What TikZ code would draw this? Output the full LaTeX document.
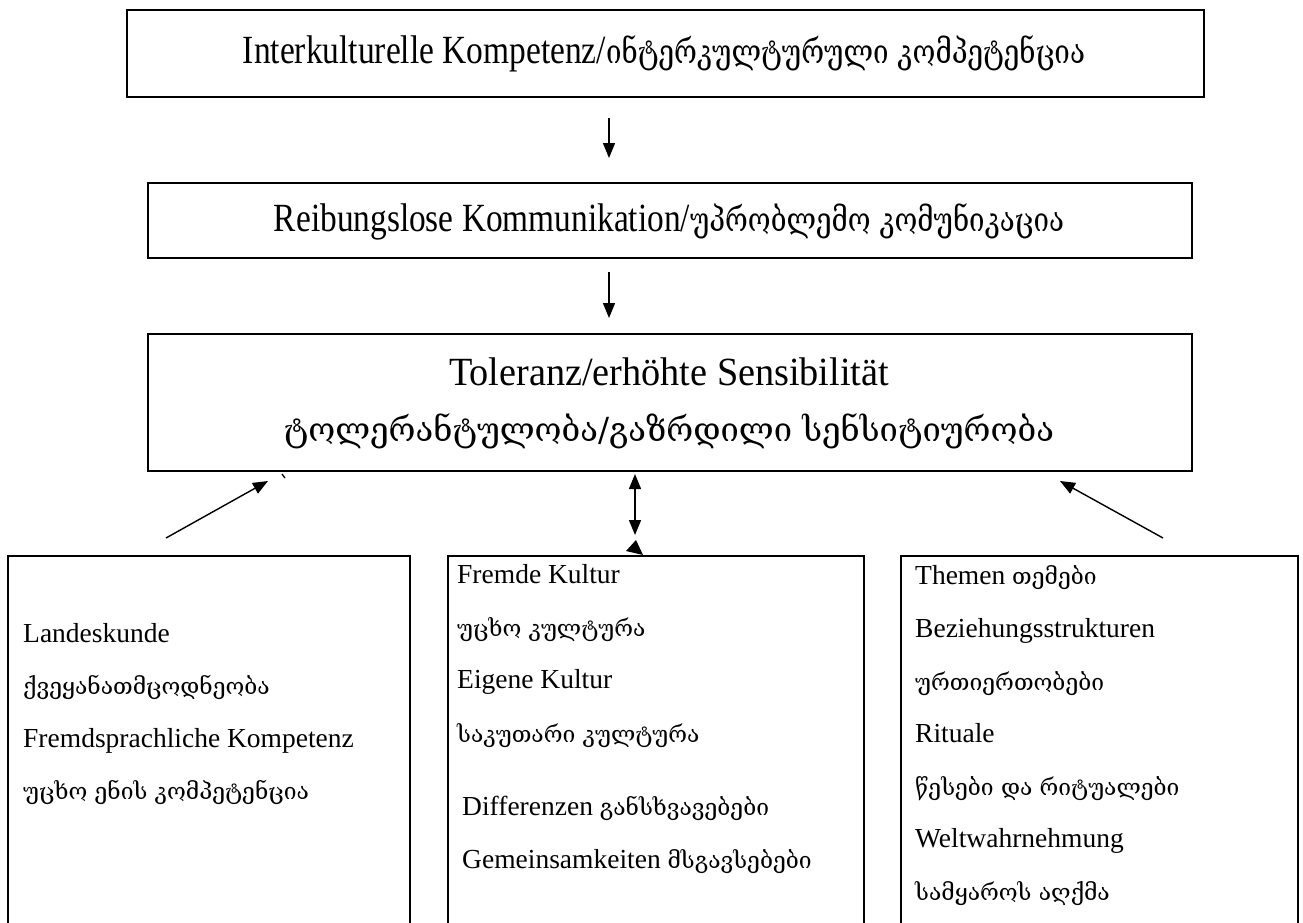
\documentclass[tikz,border=0pt]{standalone}
\usepackage{fontspec}
\usepackage{graphicx}
\setmainfont{Liberation Serif}
\newfontfamily\ka{DejaVu Serif}[Scale=0.83]
\usetikzlibrary{arrows.meta}
\newcommand{\topfont}{\fontsize{40}{44}\selectfont}
\begin{document}
\begin{tikzpicture}[x=1pt,y=-1pt,
  box/.style={draw, line width=1.6pt, anchor=north west, inner sep=0pt},
  lbl/.style={anchor=base west, inner sep=0pt, font=\fontsize{27.5}{30}\selectfont},
  ttl/.style={anchor=base, inner sep=0pt},
  conn/.style={line width=1.4pt, -{Triangle[length=15pt,width=12pt]}},
  dconn/.style={line width=1.4pt, {Triangle[length=15pt,width=12pt]}-{Triangle[length=15pt,width=12pt]}},
]
\clip (0,0) rectangle (1303,922);
\fill[white] (0,0) rectangle (1303,922);
% boxes
\node[box, minimum width=1077pt, minimum height=87pt] (b1) at (126,9) {};
\node[box, minimum width=1044pt, minimum height=75pt] (b2) at (147,182) {};
\node[box, minimum width=1044pt, minimum height=137pt] (b3) at (147,333) {};
\node[box, minimum width=402pt, minimum height=400pt] (b4) at (7,555) {};
\node[box, minimum width=416pt, minimum height=400pt] (b5) at (447,555) {};
\node[box, minimum width=397pt, minimum height=400pt] (b6) at (900,555) {};
% titles
\node[ttl] (t1) at (664,63) {\resizebox{842pt}{\height}{\topfont Interkulturelle Kompetenz/{\ka ინტერკულტურული კომპეტენცია}}};
\node[ttl] (t2) at (669,231) {\resizebox{790pt}{\height}{\topfont Reibungslose Kommunikation/{\ka უპრობლემო კომუნიკაცია}}};
\node[ttl] (t3) at (669,385) {\resizebox{440pt}{\height}{\topfont Toleranz/erhöhte Sensibilität}};
\node[ttl] (t4) at (669,441) {\resizebox{770pt}{\height}{\topfont\ka ტოლერანტულობა/გაზრდილი სენსიტიურობა}};
% left box
\node[lbl] (l1) at (23,642) {Landeskunde};
\node[lbl] (l2) at (23,694) {\ka ქვეყანათმცოდნეობა};
\node[lbl] (l3) at (23,747) {Fremdsprachliche Kompetenz};
\node[lbl] (l4) at (23,799) {\ka უცხო ენის კომპეტენცია};
% middle box
\node[lbl] (m1) at (457,583) {Fremde Kultur};
\node[lbl] (m2) at (457,636) {\ka უცხო კულტურა};
\node[lbl] (m3) at (457,688) {Eigene Kultur};
\node[lbl] (m4) at (457,742) {\ka საკუთარი კულტურა};
\node[lbl] (m5) at (462,815) {Differenzen {\ka განსხვავებები}};
\node[lbl] (m6) at (462,868) {Gemeinsamkeiten {\ka მსგავსებები}};
% right box
\node[lbl] (r1) at (915,584) {Themen {\ka თემები}};
\node[lbl] (r2) at (915,637) {Beziehungsstrukturen};
\node[lbl] (r3) at (915,690) {\ka ურთიერთობები};
\node[lbl] (r4) at (915,742) {Rituale};
\node[lbl] (r5) at (915,795) {\ka წესები და რიტუალები};
\node[lbl] (r6) at (915,847) {Weltwahrnehmung};
\node[lbl] (r7) at (915,900) {\ka სამყაროს აღქმა};
% connectors
\coordinate (a1s) at (609,118); \coordinate (a1e) at (609,158);
\coordinate (a2s) at (609,272); \coordinate (a2e) at (609,318);
\coordinate (als) at (166,538); \coordinate (ale) at (268,481);
\coordinate (ars) at (1163,538); \coordinate (are) at (1060,481);
\coordinate (ams) at (635,474); \coordinate (ame) at (635,535);
\draw[conn] (a1s) -- (a1e);
\draw[conn] (a2s) -- (a2e);
\draw[conn] (als) -- (ale);
\draw[conn] (ars) -- (are);
\draw[dconn] (ams) -- (ame);
\fill (636,540) -- (626,551) -- (643,555) -- cycle;
\draw[line width=1.3pt] (282,474) -- (285,478);
\end{tikzpicture}
\end{document}
